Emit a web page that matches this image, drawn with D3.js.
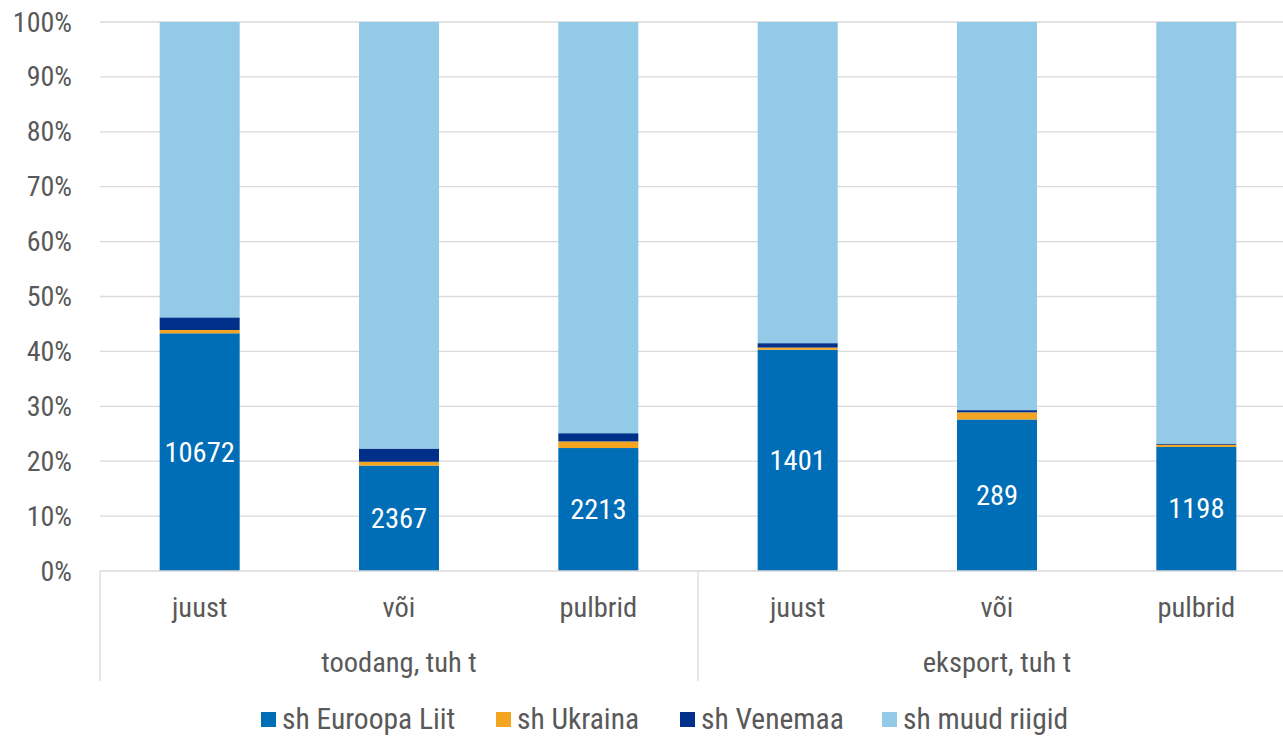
<!DOCTYPE html>
<meta charset="utf-8">
<head>
<style>
  body { margin: 0; background: #fff; }
  text { font-family: "Roboto Condensed", "Roboto", sans-serif; }
</style>
</head>
<body>
<script src="https://d3js.org/d3.v7.min.js"></script>
<div id="chart"></div>
<script>

// data (shares in %)
const categories = ["juust", "või", "pulbrid", "juust", "või", "pulbrid"];
const groups = ["toodang, tuh t", "eksport, tuh t"];
const seriesNames = ["sh Euroopa Liit", "sh Ukraina", "sh Venemaa", "sh muud riigid"];
const euShare = [43.3, 19.2, 22.4, 40.3, 27.6, 22.6];
const uaShare = [0.6, 0.7, 1.2, 0.4, 1.3, 0.4];
const ruShare = [2.3, 2.4, 1.5, 0.8, 0.4, 0.2];
const euLabels = ["10672", "2367", "2213", "1401", "289", "1198"];
const yTicks = [0, 10, 20, 30, 40, 50, 60, 70, 80, 90, 100];

const colors = ["#006EB6", "#F3A521", "#00308A", "#92CAE8"];

const W = 1283, H = 737;
const svg = d3.select("#chart").append("svg")
    .attr("width", W).attr("height", H);

const x = d3.scaleBand()
    .domain(d3.range(categories.length))
    .range([100, 1296]);
const y = d3.scaleLinear().domain([0, 100]).range([571, 22]);
const barW = 80;

function label(g, tx, ty, str, opts) {
  return g.append("text")
    .attr("x", tx).attr("y", ty)
    .attr("text-anchor", opts.anchor || "middle")
    .attr("dominant-baseline", "central")
    .attr("font-size", opts.size)
    .attr("fill", opts.fill)
    .text(str);
}

// gridlines
svg.append("g").selectAll("line")
  .data(yTicks.slice(1))
  .join("line")
    .attr("x1", 100).attr("x2", W)
    .attr("y1", d => y(d)).attr("y2", d => y(d))
    .attr("stroke", "#D9D9D9").attr("stroke-width", 1.3);

// y tick labels
yTicks.forEach(t => label(svg, 72, y(t), t + "%", {anchor: "end", size: 28, fill: "#595959"}));

// stacked data
const rows = categories.map((c, i) => {
  const other = 100 - euShare[i] - uaShare[i] - ruShare[i];
  return [euShare[i], uaShare[i], ruShare[i], other];
});
const stacked = rows.map((r, i) => {
  let acc = 0;
  return r.map((v, k) => { const s = {i, k, y0: acc, y1: acc + v}; acc += v; return s; });
});

svg.append("g").selectAll("rect")
  .data(stacked.flat())
  .join("rect")
    .attr("x", d => x(d.i) + x.bandwidth() / 2 - barW / 2)
    .attr("width", barW)
    .attr("y", d => y(d.y1))
    .attr("height", d => y(d.y0) - y(d.y1))
    .attr("fill", d => colors[d.k]);

// data labels on the EU segment
euShare.forEach((v, i) => {
  label(svg, x(i) + x.bandwidth() / 2, y(v / 2), euLabels[i], {size: 28.5, fill: "#fff"});
});

// axis line and group separators
svg.append("line")
  .attr("x1", 100).attr("x2", W).attr("y1", y(0)).attr("y2", y(0))
  .attr("stroke", "#D9D9D9").attr("stroke-width", 1.3);
[0, 3, 6].forEach(i => {
  const xx = i === 6 ? x.range()[1] : x(i);
  svg.append("line")
    .attr("x1", xx).attr("x2", xx).attr("y1", y(0)).attr("y2", 681)
    .attr("stroke", "#D9D9D9").attr("stroke-width", 1.3);
});

// category labels
categories.forEach((c, i) => {
  label(svg, x(i) + x.bandwidth() / 2, 607, c, {size: 28.5, fill: "#595959"});
});
groups.forEach((g, j) => {
  const cx = (x(j * 3) + x(j * 3 + 2) + x.bandwidth()) / 2;
  label(svg, cx, 662, g, {size: 28.5, fill: "#595959"});
});

// legend
const legendX = [261, 496, 680, 882];
seriesNames.forEach((n, k) => {
  svg.append("rect")
    .attr("x", legendX[k]).attr("y", 712)
    .attr("width", 15).attr("height", 15)
    .attr("fill", colors[k]);
  label(svg, legendX[k] + 21, 719, n, {anchor: "start", size: 29.5, fill: "#595959"});
});

</script>
</body>
